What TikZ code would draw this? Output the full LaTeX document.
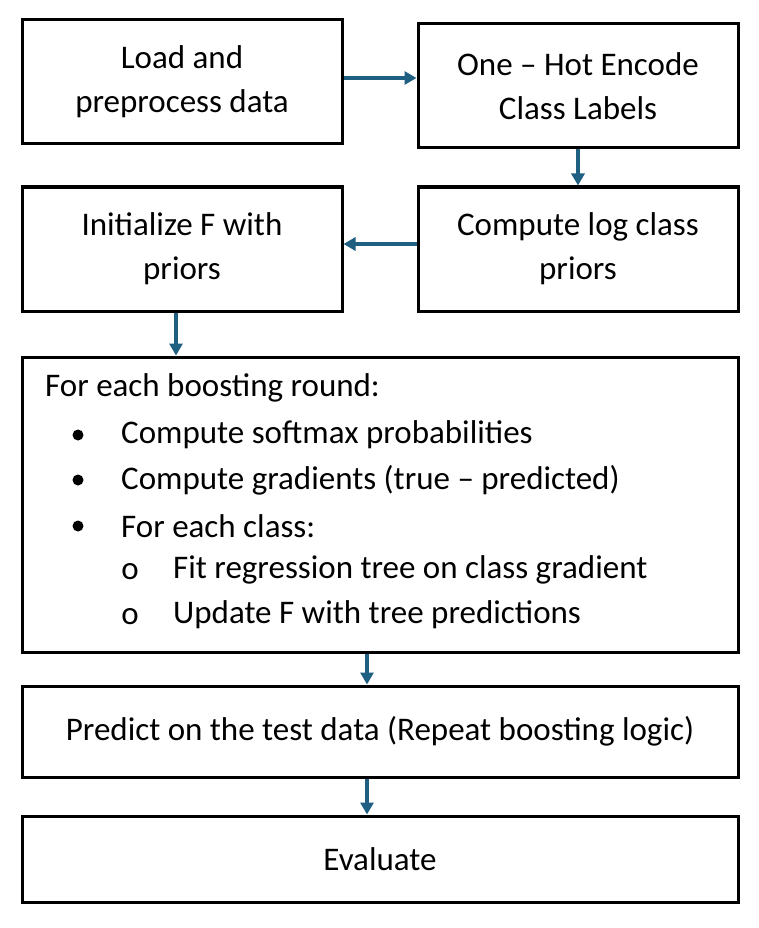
\documentclass[tikz,border=0pt]{standalone}
\usepackage{fontspec}
\setmainfont{Carlito}
\usetikzlibrary{arrows.meta}
\definecolor{arrowblue}{RGB}{31,95,130}
\begin{document}
\begin{tikzpicture}[x=1pt,y=-1pt,
  txt/.style={font=\fontsize{33}{44}\selectfont},
  box/.style={draw=black,line width=3pt,inner sep=0pt,align=center,txt},
  smallbox/.style={box,minimum width=320pt,minimum height=124pt},
  widebox/.style={box,minimum width=716pt},
  arr/.style={draw=arrowblue,line width=3.2pt,-{Triangle[length=12pt,width=13pt]}},
  item/.style={txt,anchor=west,inner sep=0pt}]
\useasboundingbox[fill=white] (0,0) rectangle (758,928);
\node[smallbox] (A) at (182,82) {Load and\\preprocess data};
\node[smallbox] (B) at (578,86) {One -- Hot Encode\\Class Labels};
\node[smallbox] (C) at (182,249) {Initialize F with\\priors};
\node[smallbox] (D) at (578,249) {Compute log class\\priors};
\node[widebox,minimum height=295pt] (E) at (380,504.5) {};
\node[widebox,minimum height=91pt] (F) at (380,731.5) {Predict on the test data (Repeat boosting logic)};
\node[widebox,minimum height=86pt] (G) at (380,859) {Evaluate};
% list inside E
\node[item] (t0) at (45,388) {For each boosting round:};
\node[item] (t1) at (121,435) {Compute softmax probabilities};
\node[item] (t2) at (121,480) {Compute gradients (true -- predicted)};
\node[item] (t3) at (121,526) {For each class:};
\node[item] (t4) at (173,570) {Fit regression tree on class gradient};
\node[item] (t5) at (173,615) {Update F with tree predictions};
\fill (78,435) circle (5.5pt);
\fill (78,480) circle (5.5pt);
\fill (78,526) circle (5.5pt);
\node[txt,inner sep=0pt] (o1) at (130,572) {o};
\node[txt,inner sep=0pt] (o2) at (130,617) {o};
% connectors
\draw[arr] ([yshift=4pt]A.east) -- ([yshift=8pt]B.west);
\draw[arr] (B.south) -- (D.north);
\draw[arr] ([yshift=5pt]D.west) -- ([yshift=5pt]C.east);
\draw[arr] ([xshift=-6pt]C.south) -- ([xshift=-6pt]C.south |- E.north);
\draw[arr] ([xshift=-13pt]E.south) -- ([xshift=-13pt]F.north);
\draw[arr] ([xshift=-13pt]F.south) -- ([xshift=-13pt]G.north);
\end{tikzpicture}
\end{document}
